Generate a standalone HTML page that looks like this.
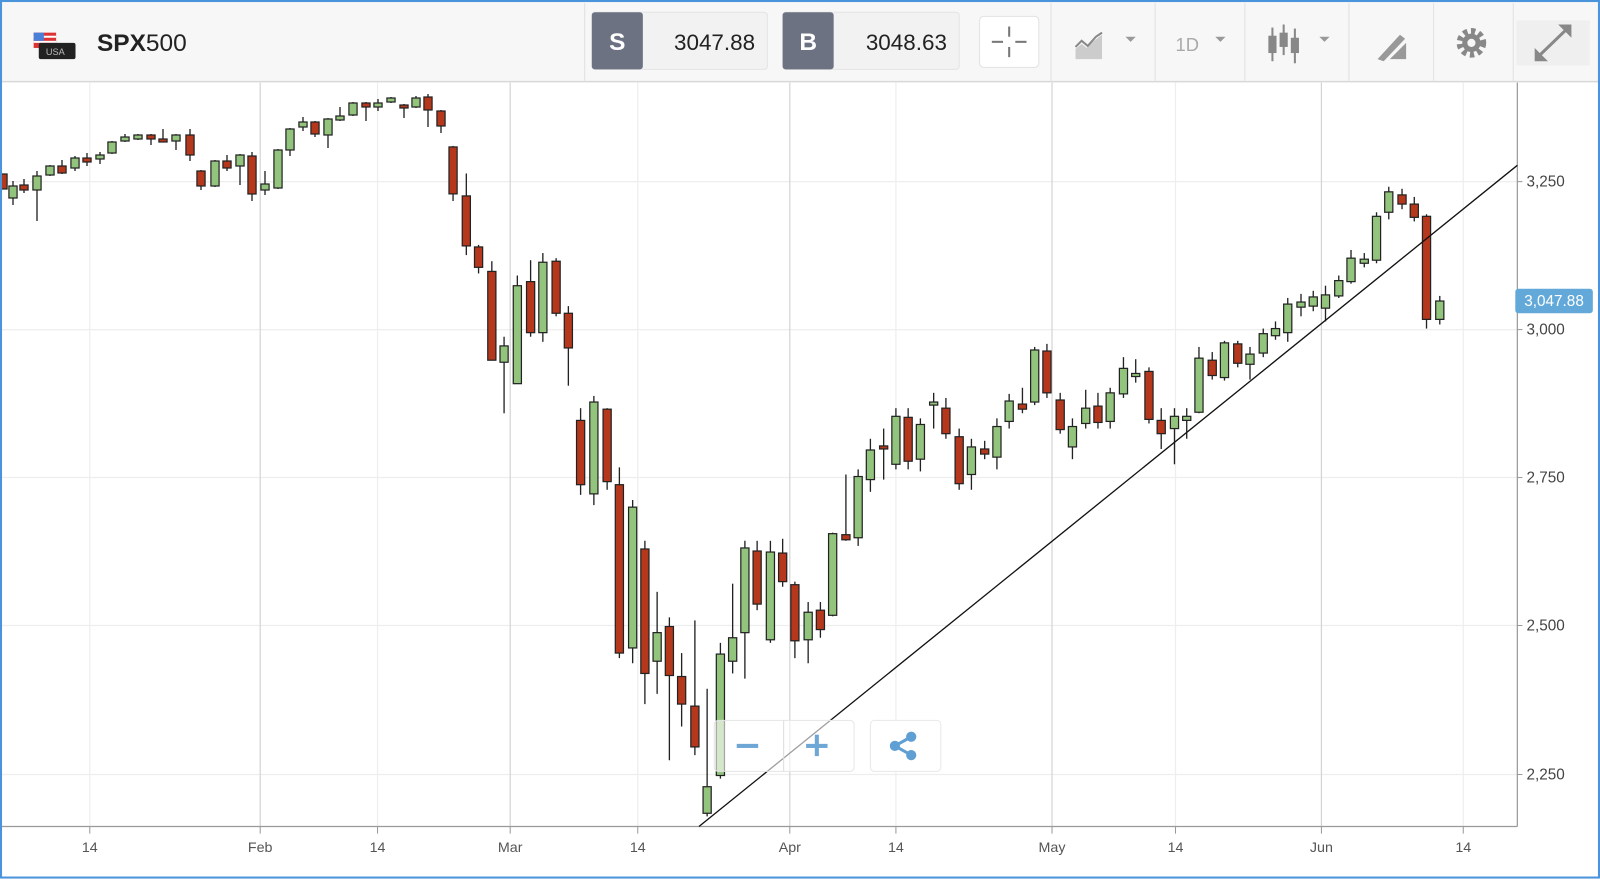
<!DOCTYPE html>
<html><head><meta charset="utf-8"><style>
html,body{margin:0;padding:0;width:1600px;height:879px;overflow:hidden;background:#fff;font-family:"Liberation Sans",sans-serif}
#wrap{position:absolute;left:0;top:0;width:1568px;height:861.4px;transform:scale(1.0204);transform-origin:0 0}
</style></head><body><div id="wrap">
<svg id="s" width="1568" height="862" xmlns="http://www.w3.org/2000/svg" font-family="Liberation Sans, sans-serif">
<rect x="0" y="0" width="1568" height="862" fill="#fff"/>
<rect x="0" y="0" width="1568" height="80" fill="#f7f7f7"/>
<line x1="0" y1="80" x2="1568" y2="80" stroke="#d8d8d8" stroke-width="1.5"/>
<!-- flag -->
<rect x="33" y="32" width="22" height="15" fill="#d33"/>
<rect x="33" y="35" width="22" height="2" fill="#fff"/><rect x="33" y="40" width="22" height="2" fill="#fff"/>
<rect x="33" y="32" width="10" height="8" fill="#4a7fd8"/>
<rect x="38" y="42" width="36" height="16" rx="2" fill="#222"/>
<text x="45" y="54" font-size="9" fill="#bbb">USA</text>
<text x="95" y="50" font-size="24" fill="#222"><tspan font-weight="bold">SPX</tspan>500</text>
<!-- S/B -->
<rect x="580" y="12" width="172" height="56" rx="3" fill="#f2f2f2" stroke="#e3e3e3"/>
<rect x="580" y="12" width="50" height="56" rx="3" fill="#6d7283"/>
<text x="605" y="49" font-size="24" font-weight="bold" fill="#fff" text-anchor="middle">S</text>
<text x="740" y="49" font-size="22" fill="#222" text-anchor="end">3047.88</text>
<rect x="767" y="12" width="173" height="56" rx="3" fill="#f2f2f2" stroke="#e3e3e3"/>
<rect x="767" y="12" width="50" height="56" rx="3" fill="#6d7283"/>
<text x="792" y="49" font-size="24" font-weight="bold" fill="#fff" text-anchor="middle">B</text>
<text x="928" y="49" font-size="22" fill="#222" text-anchor="end">3048.63</text>
<line x1="573" y1="3" x2="573" y2="80" stroke="#e0e0e0"/>
<rect x="960" y="16" width="58" height="50" rx="4" fill="#fff" stroke="#e2e2e2"/>
<g stroke="#777" stroke-width="2"><line x1="989" y1="26" x2="989" y2="36"/><line x1="989" y1="46" x2="989" y2="56"/><line x1="972" y1="41" x2="983" y2="41"/><line x1="995" y1="41" x2="1006" y2="41"/></g>
<g stroke="#e0e0e0"><line x1="1030" y1="3" x2="1030" y2="80"/><line x1="1132" y1="3" x2="1132" y2="80"/><line x1="1220" y1="3" x2="1220" y2="80"/><line x1="1322" y1="3" x2="1322" y2="80"/><line x1="1405" y1="3" x2="1405" y2="80"/><line x1="1483" y1="3" x2="1483" y2="80"/></g>
<path d="M1054 58 L1054 48 L1060 43 L1065 47 L1072 40 L1080 34 L1080 58Z" fill="#ccc"/><path d="M1054 46 L1060 40 L1066 45 L1074 36 L1080 32" stroke="#888" stroke-width="2" fill="none"/>
<path d="M1103 36 L1113 36 L1108 41Z" fill="#999"/>
<text x="1152" y="50" font-size="18" fill="#aaa">1D</text><path d="M1191 36 L1201 36 L1196 41Z" fill="#999"/>
<g fill="#888" stroke="#888" stroke-width="2"><line x1="1247" y1="27" x2="1247" y2="60"/><line x1="1258" y1="24" x2="1258" y2="54"/><line x1="1269" y1="28" x2="1269" y2="62"/></g>
<g fill="#888"><rect x="1243" y="35" width="8" height="17"/><rect x="1254" y="32" width="8" height="14"/><rect x="1265" y="37" width="8" height="15"/></g>
<path d="M1293 36 L1303 36 L1298 41Z" fill="#999"/>
<path d="M1350 58 L1372 34 L1377 38 L1356 60Z M1362 58 L1378 42 L1378 58Z" fill="#999"/>
<circle cx="1442" cy="42" r="11" fill="none" stroke="#888" stroke-width="7" stroke-dasharray="4 3.3"/><circle cx="1442" cy="42" r="9" fill="#888"/><circle cx="1442" cy="42" r="4" fill="#f7f7f7"/>
<rect x="1486" y="20" width="72" height="44" fill="#efefef"/>
<g stroke="#888" stroke-width="3" fill="#888"><line x1="1508" y1="55" x2="1536" y2="28"/></g>
<path d="M1504 60 L1504 47 L1517 60Z M1540 24 L1540 37 L1527 24Z" fill="#888"/>
<!-- grid -->
<g stroke="#eee" stroke-width="1.2">
<line x1="0" y1="178" x2="1487" y2="178"/><line x1="0" y1="323" x2="1487" y2="323"/><line x1="0" y1="468" x2="1487" y2="468"/><line x1="0" y1="613" x2="1487" y2="613"/><line x1="0" y1="759" x2="1487" y2="759"/>
<line x1="88" y1="81" x2="88" y2="810"/><line x1="370" y1="81" x2="370" y2="810"/><line x1="625" y1="81" x2="625" y2="810"/><line x1="878" y1="81" x2="878" y2="810"/><line x1="1152" y1="81" x2="1152" y2="810"/><line x1="1434" y1="81" x2="1434" y2="810"/>
</g>
<g stroke="#d4d4d4" stroke-width="1.2">
<line x1="255" y1="81" x2="255" y2="810"/><line x1="500" y1="81" x2="500" y2="810"/><line x1="774" y1="81" x2="774" y2="810"/><line x1="1031" y1="81" x2="1031" y2="810"/><line x1="1295" y1="81" x2="1295" y2="810"/>
</g>
<line x1="0" y1="810" x2="1487" y2="810" stroke="#999" stroke-width="1.2"/>
<line x1="1487" y1="81" x2="1487" y2="810" stroke="#999" stroke-width="1.2"/>
<g stroke="#999"><line x1="88" y1="810" x2="88" y2="817"/><line x1="255" y1="810" x2="255" y2="817"/><line x1="370" y1="810" x2="370" y2="817"/><line x1="500" y1="810" x2="500" y2="817"/><line x1="625" y1="810" x2="625" y2="817"/><line x1="774" y1="810" x2="774" y2="817"/><line x1="878" y1="810" x2="878" y2="817"/><line x1="1031" y1="810" x2="1031" y2="817"/><line x1="1152" y1="810" x2="1152" y2="817"/><line x1="1295" y1="810" x2="1295" y2="817"/><line x1="1434" y1="810" x2="1434" y2="817"/>
<line x1="1487" y1="178" x2="1492" y2="178"/><line x1="1487" y1="323" x2="1492" y2="323"/><line x1="1487" y1="468" x2="1492" y2="468"/><line x1="1487" y1="613" x2="1492" y2="613"/><line x1="1487" y1="759" x2="1492" y2="759"/></g>
<g font-size="14" fill="#555" text-anchor="middle">
<text x="88" y="835">14</text><text x="255" y="835">Feb</text><text x="370" y="835">14</text><text x="500" y="835">Mar</text><text x="625" y="835">14</text><text x="774" y="835">Apr</text><text x="878" y="835">14</text><text x="1031" y="835">May</text><text x="1152" y="835">14</text><text x="1295" y="835">Jun</text><text x="1434" y="835">14</text></g>
<g font-size="15" fill="#444"><text x="1496" y="183">3,250</text><text x="1496" y="328">3,000</text><text x="1496" y="473">2,750</text><text x="1496" y="618">2,500</text><text x="1496" y="764">2,250</text></g>
<g id="c"></g>
<line x1="685" y1="810" x2="1487" y2="162" stroke="#111" stroke-width="1.3"/>
<rect x="1485" y="283" width="76" height="24" rx="3" fill="#62a9da"/>
<text x="1523" y="300" font-size="15" fill="#fff" text-anchor="middle">3,047.88</text>
<rect x="700" y="706" width="137" height="50" rx="4" fill="#fff" fill-opacity="0.6" stroke="#e5e5e5"/>
<line x1="768" y1="706" x2="768" y2="756" stroke="#ddd"/>
<rect x="722" y="729" width="21" height="4" fill="#6ea6d6"/>
<rect x="790" y="729" width="21" height="4" fill="#6ea6d6"/><rect x="798.5" y="720" width="4" height="21" fill="#6ea6d6"/>
<rect x="853" y="706" width="69" height="50" rx="4" fill="#fff" stroke="#e8e8e8"/>
<g fill="#5f9fd4"><circle cx="877" cy="731" r="5"/><circle cx="893" cy="722" r="5"/><circle cx="893" cy="740" r="5"/></g>
<path d="M877 731 L893 722 M877 731 L893 740" stroke="#5f9fd4" stroke-width="3"/>
</svg>
<div style="position:absolute;left:0;top:0;width:1564px;height:857px;border:2px solid #4a94dc"></div>
</div>
<script>
var A=[[3,174,189,174,189,'r'],[13,186,198,181,205,'g'],[24,185,190,179,193,'r'],[37,176,190,171,221,'g'],[50,166,175,165,176,'g'],[62,166,173,160,174,'r'],[75,158,168,156,171,'g'],[87,158,162,153,166,'r'],[100,155,159,152,164,'g'],[112,142,153,141,154,'g'],[125,137,141,134,142,'g'],[138,135,139,134,140,'g'],[151,135,139,134,145,'r'],[163,139,142,129,142,'r'],[176,135,141,134,150,'g'],[190,135,155,129,161,'r'],[201,171,186,170,190,'r'],[215,161,186,160,187,'g'],[227,161,168,155,171,'r'],[240,155,166,154,185,'g'],[252,156,194,152,201,'r'],[265,184,190,171,195,'g'],[278,150,188,149,189,'g'],[290,129,150,128,156,'g'],[303,122,127,117,131,'g'],[315,122,134,121,137,'r'],[328,119,135,118,148,'g'],[340,116,120,107,121,'g'],[353,103,115,102,116,'g'],[366,103,107,102,121,'r'],[378,103,107,99,111,'g'],[391,98,102,97,103,'g'],[404,105,108,104,118,'r'],[416,98,107,96,108,'g'],[428,97,110,94,127,'r'],[441,111,126,110,133,'r']];
var B=[[444,144,190,143,197,'r'],[457,192,241,170,250,'r'],[469,242,262,240,268,'r'],[482,266,353,256,353,'r'],[494,339,355,330,405,'g'],[507,280,376,270,376,'g'],[520,276,326,255,330,'r'],[532,257,326,248,335,'g'],[545,256,307,253,310,'r'],[557,307,341,300,378,'r'],[569,412,475,400,485,'r'],[582,394,484,388,495,'g'],[595,401,472,400,480,'r'],[607,475,640,458,645,'r'],[620,497,635,490,650,'g'],[632,538,660,530,690,'r'],[644,620,648,580,680,'g'],[656,614,662,605,745,'r'],[668,663,690,640,712,'r'],[681,692,732,608,740,'r'],[693,771,797,675,800,'g'],[706,641,760,630,763,'g'],[718,625,648,572,660,'g'],[730,537,620,530,665,'g'],[742,540,592,530,598,'r'],[755,541,627,530,630,'g'],[767,542,570,528,575,'r'],[779,573,628,570,645,'r'],[792,600,627,590,650,'g'],[804,598,617,590,625,'r'],[816,523,603,522,604,'g'],[829,524,529,465,530,'r'],[841,467,527,460,535,'g'],[853,441,470,430,482,'g'],[866,437,440,420,470,'r'],[878,408,455,400,460,'g'],[890,409,452,400,460,'r'],[902,416,450,410,462,'g'],[915,394,397,385,420,'g'],[927,400,425,390,430,'r'],[940,428,474,420,480,'r'],[952,438,465,430,480,'g'],[965,440,445,432,450,'r'],[977,418,448,410,460,'g'],[989,393,413,386,420,'g'],[1002,396,401,380,405,'r'],[1014,343,394,340,397,'g'],[1026,344,385,337,390,'r'],[1039,392,421,385,425,'r'],[1051,418,438,410,450,'g'],[1064,400,415,382,420,'g'],[1076,398,414,385,420,'r'],[1088,385,413,380,420,'g'],[1101,361,386,350,390,'g'],[1113,366,369,352,375,'g'],[1126,364,411,360,415,'r'],[1138,412,425,400,440,'r'],[1151,408,420,400,455,'g'],[1163,408,412,400,430,'g'],[1175,351,404,340,405,'g'],[1188,353,368,345,372,'r'],[1200,336,370,334,373,'g'],[1213,337,356,334,360,'r'],[1225,347,357,340,372,'g'],[1238,327,346,322,350,'g'],[1250,322,329,315,333,'g'],[1262,298,326,292,335,'g'],[1275,296,301,288,310,'g'],[1287,291,300,285,305,'g'],[1299,289,302,280,315,'g'],[1312,275,290,270,292,'g'],[1324,253,276,245,278,'g'],[1337,254,258,248,262,'g'],[1349,212,255,208,258,'g'],[1361,188,208,183,215,'g'],[1374,191,200,185,205,'r'],[1386,200,213,193,217,'r'],[1398,212,313,210,322,'r'],[1411,295,313,290,318,'g']];
var k=1/1.0204,h='';
A.forEach(function(c){B.unshift([c[0]*k,c[1]*k,c[2]*k,c[3]*k,c[4]*k,c[5]]);});
B.forEach(function(c){var x=c[0],col=c[5]=='g'?'#93c47d':'#b5381d';
h+='<line x1="'+x+'" y1="'+c[3]+'" x2="'+x+'" y2="'+c[4]+'" stroke="#222" stroke-width="1.3"/>';
h+='<rect x="'+(x-4)+'" y="'+c[1]+'" width="8" height="'+Math.max(2,c[2]-c[1])+'" fill="'+col+'" stroke="#222" stroke-width="1.2"/>';});
document.getElementById('c').innerHTML=h;
</script>
</body></html>
